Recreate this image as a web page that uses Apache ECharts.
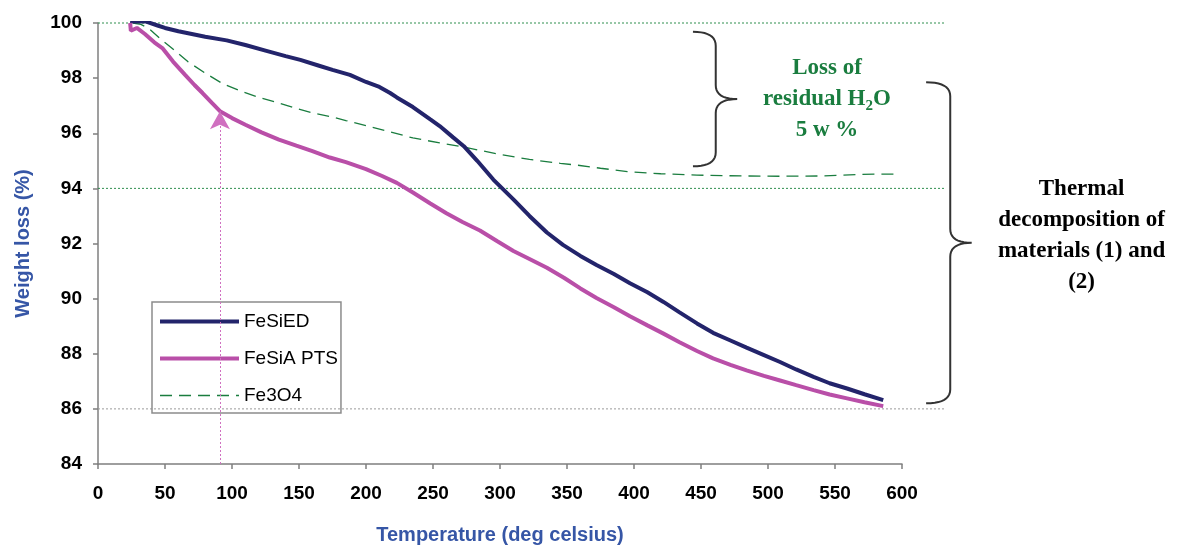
<!DOCTYPE html>
<html>
<head>
<meta charset="utf-8">
<script src="https://cdn.jsdelivr.net/npm/echarts@6/dist/echarts.min.js"></script>
<style>
  html, body { margin: 0; padding: 0; background: #ffffff; }
  #chart { width: 1183px; height: 550px; }
</style>
</head>
<body>
<div id="chart"></div>
<script>
// Axis ranges (deg C and weight %)
const xRange = { min: 0, max: 600, step: 50 };
const yRange = { min: 84, max: 100, step: 2 };

// Series labels
const nameED = 'FeSiED';
const nameAPTS = 'FeSiA PTS';
const nameFe3O4 = 'Fe3O4';

// TGA curves: [temperature, weight %]
const fesiED = [
  [24,100.05],[36,100.05],[45,99.9],[50,99.82],[60,99.7],[70,99.6],[80,99.5],[96,99.37],
  [110,99.2],[125,99.0],[140,98.8],[151,98.66],[165,98.45],[175,98.3],[188,98.12],[200,97.86],
  [210,97.68],[218,97.46],[223,97.3],[235,96.95],[248,96.5],[255,96.26],[265,95.85],[273,95.53],
  [283,95.0],[295,94.32],[310,93.6],[322,93.0],[335,92.4],[347,91.95],[360,91.55],[372,91.22],
  [385,90.89],[397,90.56],[410,90.23],[422,89.88],[434,89.5],[447,89.1],[459,88.76],[472,88.48],
  [484,88.22],[497,87.95],[509,87.7],[521,87.43],[534,87.16],[546,86.93],[559,86.74],[572,86.53],
  [586,86.32]
];
const fesiAPTS = [
  [24,100.0],[24.5,99.72],[29,99.82],[35,99.6],[42,99.3],[48,99.09],[56,98.6],[65,98.12],
  [72,97.75],[78,97.46],[85,97.1],[91,96.8],[100,96.55],[110,96.31],[122,96.03],[135,95.77],
  [148,95.55],[160,95.35],[173,95.12],[185,94.95],[200,94.7],[212,94.45],[223,94.2],[235,93.85],
  [248,93.45],[260,93.1],[272,92.78],[285,92.47],[298,92.08],[310,91.73],[322,91.44],[335,91.12],
  [348,90.75],[360,90.37],[372,90.02],[385,89.69],[397,89.36],[410,89.03],[422,88.73],[434,88.42],
  [447,88.1],[459,87.83],[472,87.6],[484,87.4],[497,87.2],[509,87.03],[521,86.86],[534,86.68],
  [546,86.52],[559,86.38],[572,86.24],[586,86.1]
];
const fe3o4 = [
  [26,100.0],[32,99.95],[38,99.8],[46,99.45],[55,99.09],[67,98.6],[80,98.18],[93,97.8],
  [107,97.52],[120,97.3],[135,97.1],[148,96.9],[160,96.74],[173,96.61],[185,96.46],[200,96.28],
  [218,96.05],[235,95.83],[255,95.65],[273,95.5],[298,95.25],[322,95.05],[345,94.91],[358,94.84],
  [375,94.73],[395,94.61],[420,94.53],[447,94.48],[480,94.45],[510,94.44],[539,94.45],[540,94.5],
  [570,94.51],[596,94.52]
];

// Reference levels and annotation anchors
const levelTop = 100;
const levelWater = 94;
const levelFinal = 86;
const levelsEnd = 632;            // reference lines run past the last tick
const arrowAt = [91, 96.8];       // end of the fast initial loss
const waterBraceY = [99.68, 94.8];
const waterBraceX = [444, 461, 477];
const decompBraceY = [97.85, 86.2];
const decompBraceX = [618, 636, 652];
const waterLabelAt = [544, 97.23];
const decompLabelAt = [734, 92.3];

const GREEN = '#1a7d3f';
const NAVY = '#23246b';
const PINK = '#b94fa8';
const AXIS_BLUE = '#3656a6';

const lineED = { color: NAVY, width: 4 };
const lineAPTS = { color: PINK, width: 4 };
const lineFe3O4 = { color: GREEN, width: 1.3, type: [12, 7] };

const chart = echarts.init(document.getElementById('chart'), null, { renderer: 'canvas' });

chart.setOption({
  animation: false,
  backgroundColor: '#ffffff',
  grid: { left: 98, right: 281, top: 23, bottom: 84, containLabel: false },
  legend: {
    orient: 'vertical',
    left: 152, top: 302,
    padding: [10, 3, 8, 6],
    itemWidth: 79, itemHeight: 14, itemGap: 18,
    borderColor: '#8c8c8c', borderWidth: 1.5,
    itemStyle: { opacity: 0 },
    textStyle: { fontFamily: 'Liberation Sans', fontSize: 19, color: '#000' },
    data: [
      { name: nameED, lineStyle: lineED },
      { name: nameAPTS, lineStyle: lineAPTS },
      { name: nameFe3O4, lineStyle: lineFe3O4 }
    ]
  },
  xAxis: {
    type: 'value',
    min: xRange.min, max: xRange.max, interval: xRange.step,
    name: 'Temperature (deg celsius)',
    nameLocation: 'middle', nameGap: 61,
    nameTextStyle: { fontFamily: 'Liberation Sans', fontWeight: 'bold', fontSize: 20, color: AXIS_BLUE },
    axisLine: { show: true, lineStyle: { color: '#7f7f7f', width: 1.5 } },
    axisTick: { show: true, length: 5, lineStyle: { color: '#7f7f7f', width: 1.5 } },
    axisLabel: { margin: 20, fontFamily: 'Liberation Sans', fontWeight: 'bold', fontSize: 19, color: '#000' },
    splitLine: { show: false }
  },
  yAxis: {
    type: 'value',
    min: yRange.min, max: yRange.max, interval: yRange.step,
    name: 'Weight loss (%)',
    nameLocation: 'middle', nameGap: 65,
    nameTextStyle: { fontFamily: 'Liberation Sans', fontWeight: 'bold', fontSize: 20, color: AXIS_BLUE },
    axisLine: { show: true, lineStyle: { color: '#7f7f7f', width: 1.5 } },
    axisTick: { show: true, length: 5, lineStyle: { color: '#7f7f7f', width: 1.5 } },
    axisLabel: { margin: 16, fontFamily: 'Liberation Sans', fontWeight: 'bold', fontSize: 19, color: '#000' },
    splitLine: { show: false }
  },
  series: [
    {
      name: nameFe3O4, type: 'line', data: fe3o4, symbol: 'none', z: 2,
      lineStyle: lineFe3O4,
      itemStyle: { color: GREEN }
    },
    {
      name: nameED, type: 'line', data: fesiED, symbol: 'none', z: 3,
      lineStyle: lineED,
      itemStyle: { color: NAVY }
    },
    {
      name: nameAPTS, type: 'line', data: fesiAPTS, symbol: 'none', z: 4,
      lineStyle: lineAPTS,
      itemStyle: { color: PINK },
      markLine: {
        silent: true,
        symbol: ['none', 'arrow'],
        symbolSize: [15, 18],
        label: { show: false },
        lineStyle: { color: '#d070c0', type: [2, 2], width: 1 },
        itemStyle: { color: PINK },
        data: [[{ coord: [arrowAt[0], yRange.min] }, { coord: arrowAt }]]
      }
    }
  ]
});

// Overlays placed in data coordinates
const px = (x, y) => chart.convertToPixel({ gridIndex: 0 }, [x, y]);

function refLine(level, color) {
  const a = px(xRange.min, level);
  const b = px(levelsEnd, level);
  return {
    type: 'line', silent: true, z: 1,
    shape: { x1: a[0], y1: a[1], x2: b[0], y2: b[1] },
    style: { stroke: color, lineWidth: 1, lineDash: [2, 2] }
  };
}

function quad(p0, p1, p2, n, out) {
  for (let i = 1; i <= n; i++) {
    const t = i / n, u = 1 - t;
    out.push([u * u * p0[0] + 2 * u * t * p1[0] + t * t * p2[0],
              u * u * p0[1] + 2 * u * t * p1[1] + t * t * p2[1]]);
  }
}

function brace(xs, ys) {
  const top = px(xs[0], ys[0]);
  const bot = px(xs[0], ys[1]);
  const xStart = top[0];
  const xv = px(xs[1], ys[0])[0];
  const xt = px(xs[2], ys[0])[0];
  const yTop = top[1], yBot = bot[1], yMid = (yTop + yBot) / 2;
  const r = 14;
  const pts = [[xStart, yTop]];
  quad([xStart, yTop], [xv, yTop], [xv, yTop + r], 10, pts);
  pts.push([xv, yMid - r]);
  quad([xv, yMid - r], [xv, yMid], [xt, yMid], 10, pts);
  quad([xt, yMid], [xv, yMid], [xv, yMid + r], 10, pts);
  pts.push([xv, yBot - r]);
  quad([xv, yBot - r], [xv, yBot], [xStart, yBot], 10, pts);
  return {
    type: 'polyline', silent: true,
    shape: { points: pts },
    style: { stroke: '#333333', lineWidth: 2, fill: null }
  };
}

const wl = px(waterLabelAt[0], waterLabelAt[1]);
const dl = px(decompLabelAt[0], decompLabelAt[1]);
const serifBold = { fontFamily: 'Liberation Serif', fontWeight: 'bold' };

chart.setOption({
  graphic: [
    refLine(levelTop, '#2f8f4f'),
    refLine(levelWater, '#2f8f4f'),
    refLine(levelFinal, '#9a9a9a'),
    brace(waterBraceX, waterBraceY),
    brace(decompBraceX, decompBraceY),
    {
      type: 'text', silent: true, x: wl[0], y: wl[1],
      style: {
        text: '{g|Loss of}\n{g|residual H}{s|2}{g|O}\n{g|5 w %}',
        align: 'center', verticalAlign: 'middle',
        rich: {
          g: Object.assign({ fontSize: 23, lineHeight: 31, fill: GREEN }, serifBold),
          s: Object.assign({ fontSize: 15, lineHeight: 31, fill: GREEN, padding: [14, 0, 0, 0] }, serifBold)
        }
      }
    },
    {
      type: 'text', silent: true, x: dl[0], y: dl[1],
      style: {
        text: 'Thermal\ndecomposition of\nmaterials (1) and\n(2)',
        align: 'center', verticalAlign: 'middle',
        fontSize: 23, lineHeight: 31, fill: '#000000',
        fontFamily: 'Liberation Serif', fontWeight: 'bold'
      }
    }
  ]
});
</script>
</body>
</html>
